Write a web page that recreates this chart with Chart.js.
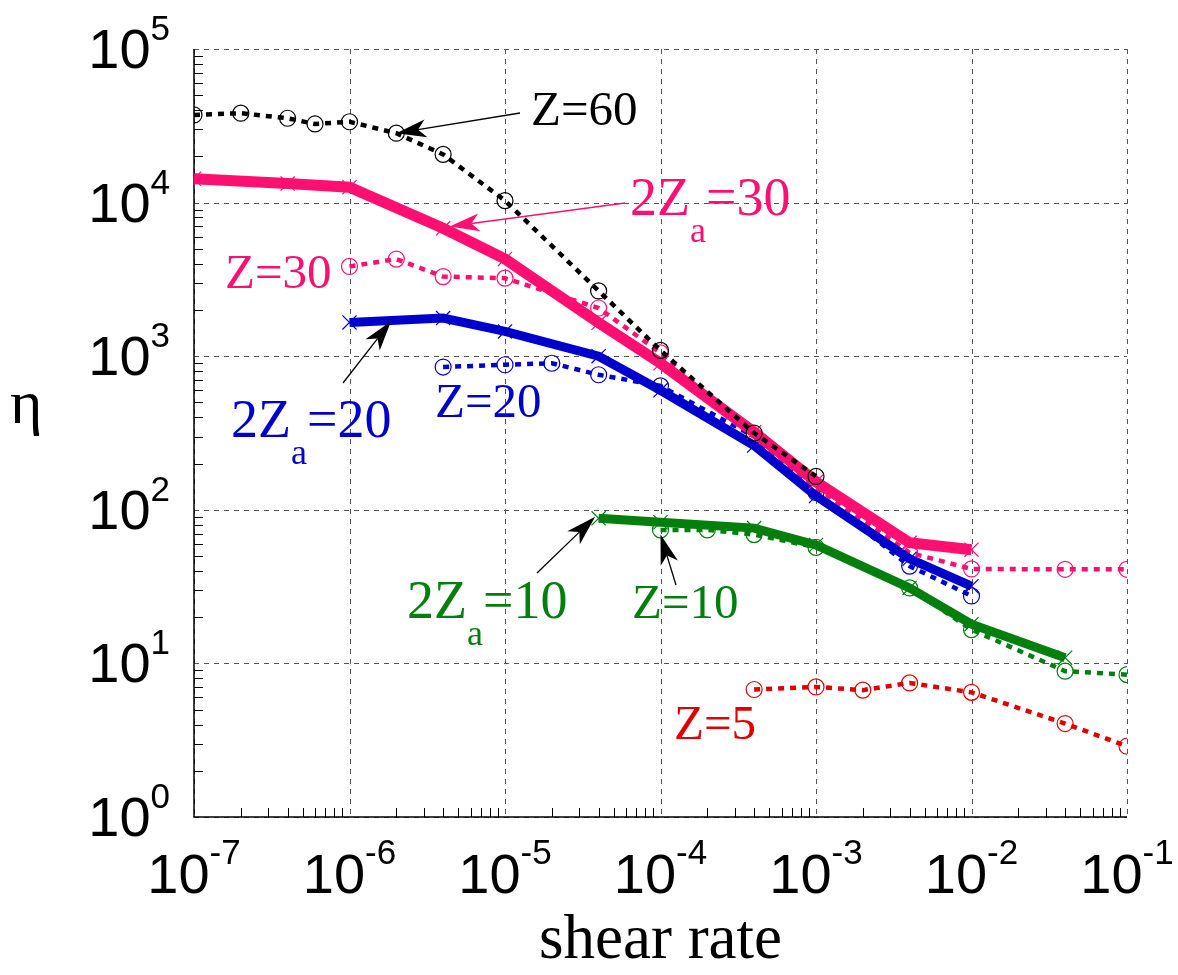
<!DOCTYPE html>
<html>
<head>
<meta charset="utf-8">
<script src="https://cdn.jsdelivr.net/npm/chart.js@4.4.1/dist/chart.umd.min.js"></script>
<style>
  html, body { margin: 0; padding: 0; background: #fff; }
  #wrap { width: 1178px; height: 975px; }
</style>
</head>
<body>
<div id="wrap"><canvas id="c" width="1178" height="975"></canvas></div>
<script>
// shear rate / viscosity
const rateZ60 = [1e-7, 2e-7, 4e-7, 6e-7, 1e-6, 2e-6, 4e-6, 1e-5, 4e-5, 1e-4, 4e-4, 1e-3];
const etaZ60  = [37200, 38200, 35400, 32500, 33600, 28300, 20600, 10300, 2660, 1090, 316, 165];

const rateZa30 = [1e-7, 4e-7, 1e-6, 4e-6, 1e-5, 4e-5, 1e-4, 4e-4, 1e-3, 4e-3, 1e-2];
const etaZa30  = [14300, 13300, 12600, 6800, 4300, 1650, 900, 320, 152, 61, 55];

const rateZ30 = [1e-6, 2e-6, 4e-6, 1e-5, 4e-5, 1e-4, 4e-4, 1e-3, 4e-3, 1e-2, 4e-2, 1e-1];
const etaZ30  = [3840, 4290, 3300, 3220, 2060, 1050, 300, 140, 52.5, 41.2, 41, 41];

const rateZa20 = [1e-6, 4e-6, 1e-5, 4e-5, 1e-4, 4e-4, 1e-3, 4e-3, 1e-2];
const etaZa20  = [1660, 1770, 1450, 1000, 600, 262, 123, 48, 31.8];

const rateZ20 = [4e-6, 1e-5, 2e-5, 4e-5, 1e-4, 4e-4, 1e-3, 4e-3, 1e-2];
const etaZ20  = [850, 880, 900, 757, 641, 300, 130, 43, 27.5];

const rateZa10 = [4e-5, 1e-4, 4e-4, 1e-3, 4e-3, 1e-2, 4e-2];
const etaZa10  = [88, 83, 76, 59, 31, 18, 10.9];

const rateZ10 = [1e-4, 2e-4, 4e-4, 1e-3, 4e-3, 1e-2, 4e-2, 1e-1];
const etaZ10  = [74, 74, 69, 57, 31, 16.6, 8.9, 8.45];

const rateZ5 = [4e-4, 1e-3, 2e-3, 4e-3, 1e-2, 4e-2, 1e-1];
const etaZ5  = [6.76, 7.03, 6.7, 7.46, 6.48, 4.06, 2.89];

const xExps = [-7, -6, -5, -4, -3, -2, -1];
const yExps = [0, 1, 2, 3, 4, 5];

const PINK = '#ff1070', BLUE = '#0000cc', GREEN = '#037f0d', RED = '#e00000';

function pts(xs, ys) {
  return xs.map((x, i) => ({ x: x, y: ys[i] }));
}

function dotted(label, xs, ys, color, order) {
  return {
    label: label, data: pts(xs, ys), order: order,
    borderColor: color, borderWidth: 4.5, borderDash: [6, 6], borderCapStyle: 'butt',
    pointStyle: 'circle', pointRadius: 8, pointBorderWidth: 1.2,
    pointBorderColor: color, pointBackgroundColor: 'rgba(0,0,0,0)', tension: 0
  };
}

function solid(label, xs, ys, color, width, order) {
  return {
    label: label, data: pts(xs, ys), order: order,
    borderColor: color, borderWidth: width, borderJoinStyle: 'miter',
    pointStyle: 'crossRot', pointRadius: 10, pointBorderWidth: 1.2,
    pointBorderColor: color, pointBackgroundColor: color, tension: 0
  };
}

// text labels on the plot
const labels = [
  { main: 'Z=60', color: '#000', x: 531, y: 125 },
  { pre: '2Z', sub: 'a', post: '=30', color: PINK, x: 630, y: 215 },
  { main: 'Z=30', color: PINK, x: 225, y: 288 },
  { pre: '2Z', sub: 'a', post: '=20', color: BLUE, x: 231, y: 437 },
  { main: 'Z=20', color: BLUE, x: 435, y: 417 },
  { pre: '2Z', sub: 'a', post: '=10', color: GREEN, x: 407, y: 618 },
  { main: 'Z=10', color: GREEN, x: 632, y: 618 },
  { main: 'Z=5', color: RED, x: 674, y: 739 }
];

// arrows: tail in pixels, tip in data coords
const arrows = [
  { from: [520, 113], to: [2e-6, 28300], color: '#000' },
  { from: [625, 203], to: [4.4e-6, 7000], color: PINK },
  { from: [343, 383], to: [1.85e-6, 1690], color: '#000' },
  { from: [537, 573], to: [3.8e-5, 90], color: '#000' },
  { from: [676, 585], to: [1e-4, 69], color: '#000' }
];

function drawArrow(ctx, x0, y0, x1, y1, color) {
  const dx = x1 - x0, dy = y1 - y0;
  const len = Math.hypot(dx, dy);
  const ux = dx / len, uy = dy / len;
  const px = -uy, py = ux;
  const L = 30, W = 9, N = 22;
  ctx.save();
  ctx.strokeStyle = color;
  ctx.fillStyle = color;
  ctx.lineWidth = 1.3;
  ctx.beginPath();
  ctx.moveTo(x0, y0);
  ctx.lineTo(x1 - ux * N, y1 - uy * N);
  ctx.stroke();
  ctx.beginPath();
  ctx.moveTo(x1, y1);
  ctx.lineTo(x1 - ux * L + px * W, y1 - uy * L + py * W);
  ctx.lineTo(x1 - ux * N, y1 - uy * N);
  ctx.lineTo(x1 - ux * L - px * W, y1 - uy * L - py * W);
  ctx.closePath();
  ctx.fill();
  ctx.restore();
}

const framePlugin = {
  id: 'frame',
  beforeDatasetsDraw(chart) {
    const { ctx, chartArea: a, scales: { x, y } } = chart;
    ctx.save();
    // dashed grid at decades
    ctx.strokeStyle = '#555';
    ctx.lineWidth = 1;
    ctx.setLineDash([5, 5]);
    xExps.forEach(e => {
      const px = Math.round(x.getPixelForValue(Math.pow(10, e))) + 0.5;
      ctx.beginPath(); ctx.moveTo(px, a.top); ctx.lineTo(px, a.bottom); ctx.stroke();
    });
    yExps.forEach(e => {
      const py = Math.round(y.getPixelForValue(Math.pow(10, e))) + 0.5;
      ctx.beginPath(); ctx.moveTo(a.left, py); ctx.lineTo(a.right, py); ctx.stroke();
    });
    ctx.setLineDash([]);
    // minor ticks
    ctx.strokeStyle = '#000';
    ctx.lineWidth = 1;
    for (let e = -7; e < -1; e++) {
      for (let m = 2; m < 10; m++) {
        const px = Math.round(x.getPixelForValue(m * Math.pow(10, e))) + 0.5;
        ctx.beginPath(); ctx.moveTo(px, a.bottom); ctx.lineTo(px, a.bottom - 9); ctx.stroke();
      }
    }
    for (let e = 0; e < 5; e++) {
      for (let m = 2; m < 10; m++) {
        const py = Math.round(y.getPixelForValue(m * Math.pow(10, e))) + 0.5;
        ctx.beginPath(); ctx.moveTo(a.left, py); ctx.lineTo(a.left + 9, py); ctx.stroke();
      }
    }
    // left / bottom axis lines
    ctx.lineWidth = 1.5;
    ctx.beginPath();
    ctx.moveTo(a.left, a.top); ctx.lineTo(a.left, a.bottom); ctx.lineTo(a.right, a.bottom);
    ctx.stroke();
    ctx.restore();
  },
  afterDraw(chart) {
    const { ctx, chartArea: a, scales: { x, y } } = chart;
    ctx.save();
    ctx.fillStyle = '#000';
    ctx.textBaseline = 'alphabetic';
    // tick labels with superscript exponents
    const big = '56px "Liberation Sans"', small = '35px "Liberation Sans"';
    xExps.forEach(e => {
      const px = x.getPixelForValue(Math.pow(10, e));
      ctx.font = big; const w1 = ctx.measureText('10').width;
      ctx.font = small; const w2 = ctx.measureText(String(e)).width;
      const x0 = px - (w1 + w2) / 2;
      ctx.font = big; ctx.textAlign = 'left';
      ctx.fillText('10', x0, a.bottom + 76);
      ctx.font = small;
      ctx.fillText(String(e), x0 + w1, a.bottom + 47);
    });
    yExps.forEach(e => {
      const py = y.getPixelForValue(Math.pow(10, e));
      ctx.font = big; const w1 = ctx.measureText('10').width;
      ctx.font = small; const w2 = ctx.measureText(String(e)).width;
      const x0 = a.left - 24 - w1 - w2;
      ctx.font = big; ctx.textAlign = 'left';
      ctx.fillText('10', x0, py + 19);
      ctx.font = small;
      ctx.fillText(String(e), x0 + w1, py - 9);
    });
    // axis titles
    ctx.font = '63px "Liberation Serif"';
    ctx.textAlign = 'center';
    ctx.fillText('shear rate', (a.left + a.right) / 2, 958);
    ctx.font = '62px "Liberation Serif"';
    ctx.textAlign = 'left';
    ctx.fillText('\u03b7', 10, 423);

    // curve labels
    labels.forEach(l => {
      ctx.fillStyle = l.color;
      if (l.main) {
        ctx.font = '49px "Liberation Serif"';
        ctx.fillText(l.main, l.x, l.y);
      } else {
        ctx.font = '54px "Liberation Serif"';
        ctx.fillText(l.pre, l.x, l.y);
        const w1 = ctx.measureText(l.pre).width;
        ctx.font = '36px "Liberation Serif"';
        ctx.fillText(l.sub, l.x + w1, l.y + 27);
        const w2 = ctx.measureText(l.sub).width;
        ctx.font = '54px "Liberation Serif"';
        ctx.fillText(l.post, l.x + w1 + w2, l.y);
      }
    });
    ctx.restore();

    arrows.forEach(ar => {
      drawArrow(ctx, ar.from[0], ar.from[1],
        x.getPixelForValue(ar.to[0]), y.getPixelForValue(ar.to[1]), ar.color);
    });
  }
};

new Chart(document.getElementById('c').getContext('2d'), {
  type: 'line',
  data: {
    datasets: [
      dotted('Z=60', rateZ60, etaZ60, '#000', 0),
      solid('2Za=30', rateZa30, etaZa30, PINK, 11, 1),
      solid('2Za=20', rateZa20, etaZa20, BLUE, 9, 2),
      solid('2Za=10', rateZa10, etaZa10, GREEN, 9, 3),
      dotted('Z=30', rateZ30, etaZ30, PINK, 4),
      dotted('Z=20', rateZ20, etaZ20, BLUE, 5),
      dotted('Z=10', rateZ10, etaZ10, GREEN, 6),
      dotted('Z=5', rateZ5, etaZ5, RED, 7)
    ]
  },
  options: {
    responsive: false,
    animation: false,
    devicePixelRatio: 1,
    layout: { padding: { left: 194, top: 49, right: 51, bottom: 158 } },
    plugins: { legend: { display: false }, tooltip: { enabled: false } },
    scales: {
      x: { type: 'logarithmic', min: 1e-7, max: 1e-1, display: false },
      y: { type: 'logarithmic', min: 1, max: 1e5, display: false }
    }
  },
  plugins: [framePlugin]
});
</script>
</body>
</html>
